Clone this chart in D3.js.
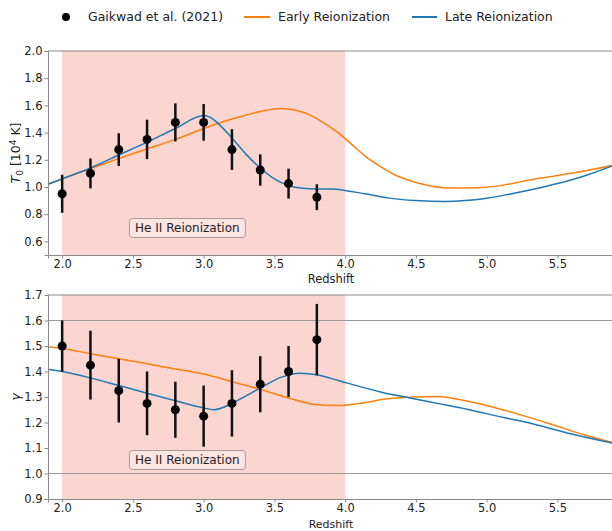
<!DOCTYPE html>
<html><head><meta charset="utf-8">
<script src="https://cdn.jsdelivr.net/npm/d3@7"></script>
<style>body{margin:0;background:#fff}svg{display:block}text{font-family:"DejaVu Sans",sans-serif}</style>
</head><body><svg id="c" width="612" height="531"></svg>
<script>
const obsZ = [2.0,2.2,2.4,2.6,2.8,3.0,3.2,3.4,3.6,3.8];
const obsT0 = [0.95,1.10,1.275,1.35,1.475,1.475,1.275,1.125,1.025,0.925];
const obsT0Err = [0.14,0.11,0.12,0.145,0.14,0.135,0.15,0.115,0.11,0.095];
const obsGamma = [1.50,1.425,1.325,1.275,1.25,1.225,1.275,1.35,1.40,1.525];
const obsGammaErr = [0.10,0.135,0.125,0.125,0.11,0.12,0.13,0.11,0.10,0.14];

const earlyT0Z = [1.9,2.0,2.2,2.4,2.6,2.8,3.0,3.2,3.4,3.55,3.65,3.75,3.85,3.95,4.05,4.15,4.25,4.35,4.45,4.55,4.7,4.85,5.0,5.15,5.33,5.5,5.7,5.9];
const earlyT0 = [1.02,1.06,1.135,1.21,1.28,1.35,1.43,1.50,1.555,1.578,1.565,1.53,1.47,1.40,1.31,1.22,1.15,1.09,1.05,1.02,0.995,0.993,0.998,1.02,1.057,1.085,1.12,1.16];
const lateT0Z = [1.9,2.0,2.2,2.4,2.6,2.8,3.0,3.05,3.1,3.2,3.3,3.4,3.5,3.6,3.7,3.8,3.9,4.0,4.15,4.3,4.5,4.7,4.85,5.0,5.15,5.33,5.5,5.7,5.9];
const lateT0 = [1.02,1.06,1.14,1.235,1.33,1.43,1.525,1.51,1.47,1.36,1.24,1.14,1.06,1.01,0.99,0.985,0.985,0.975,0.948,0.92,0.90,0.893,0.90,0.918,0.945,0.983,1.025,1.085,1.16];

const earlyGZ = [1.9,2.0,2.2,2.4,2.6,2.8,3.0,3.2,3.4,3.6,3.8,3.95,4.1,4.3,4.5,4.65,4.85,5.1,5.3,5.5,5.7,5.9];
const earlyG = [1.497,1.49,1.47,1.45,1.43,1.41,1.39,1.36,1.33,1.296,1.27,1.267,1.275,1.293,1.30,1.302,1.285,1.252,1.22,1.185,1.15,1.12];
const lateGZ = [1.9,2.0,2.2,2.4,2.6,2.8,3.0,3.07,3.15,3.25,3.4,3.55,3.68,3.8,3.9,4.0,4.25,4.45,4.65,4.86,5.1,5.33,5.6,5.9];
const lateG = [1.409,1.40,1.375,1.345,1.315,1.285,1.257,1.25,1.262,1.29,1.335,1.378,1.393,1.387,1.373,1.357,1.32,1.297,1.275,1.252,1.222,1.194,1.155,1.118];

const xTicks = [2.0,2.5,3.0,3.5,4.0,4.5,5.0,5.5];
const t0Ticks = [0.6,0.8,1.0,1.2,1.4,1.6,1.8,2.0];
const gTicks = [0.9,1.0,1.1,1.2,1.3,1.4,1.5,1.6,1.7];
const gRefLines = [1.0,1.6];
const heRange = [2.0,4.0];
const legendItems = ["Gaikwad et al. (2021)","Early Reionization","Late Reionization"];

const ORANGE="#ff7f0e", BLUE="#1f77b4", SPINE="#8a8a8a";
const svg = d3.select("#c");
const x = d3.scaleLinear().domain([1.9,5.9]).range([48,614]);

function panel(top,bottom,ydom,yticks,obs,err,early,earlyZ,late,lateZ,ylabel,refs,boxY,xlabOff,xlabSize){
  const y = d3.scaleLinear().domain(ydom).range([bottom,top]);
  const g = svg.append("g");
  g.append("rect").attr("x",x(heRange[0])).attr("width",x(heRange[1])-x(heRange[0]))
    .attr("y",top).attr("height",bottom-top).attr("fill","rgba(243,128,112,0.33)");
  refs.forEach(r=>g.append("line").attr("x1",48).attr("x2",614).attr("y1",y(r)).attr("y2",y(r))
    .attr("stroke","#9a9a9a").attr("stroke-width",1));
  const line = d3.line().curve(d3.curveMonotoneX);
  g.append("path").attr("d",line(earlyZ.map((z,i)=>[x(z),y(early[i])]))).attr("fill","none").attr("stroke",ORANGE).attr("stroke-width",1.5);
  g.append("path").attr("d",line(lateZ.map((z,i)=>[x(z),y(late[i])]))).attr("fill","none").attr("stroke",BLUE).attr("stroke-width",1.5);
  obsZ.forEach((z,i)=>{
    g.append("line").attr("x1",x(z)).attr("x2",x(z)).attr("y1",y(obs[i]-err[i])).attr("y2",y(obs[i]+err[i]))
      .attr("stroke","#111").attr("stroke-width",2.5);
    g.append("circle").attr("cx",x(z)).attr("cy",y(obs[i])).attr("r",4.5).attr("fill","#000");
  });
  const tb = g.append("g").attr("transform",`translate(${x(2.885)},${boxY})`);
  tb.append("rect").attr("x",-58).attr("y",-9.5).attr("width",116).attr("height",19).attr("rx",3)
    .attr("fill","rgba(255,240,238,0.6)").attr("stroke","#a99").attr("stroke-width",1);
  tb.append("text").attr("text-anchor","middle").attr("dy","0.36em").attr("font-size",12).attr("fill","#222").text("He II Reionization");
  g.append("line").attr("x1",48).attr("x2",614).attr("y1",top).attr("y2",top).attr("stroke",SPINE);
  const xa = g.append("g").attr("transform",`translate(0,${bottom})`)
    .call(d3.axisBottom(x).tickValues(xTicks).tickFormat(d3.format(".1f")).tickSize(3.5).tickPadding(1.5));
  const ya = g.append("g").attr("transform",`translate(48,0)`)
    .call(d3.axisLeft(y).tickValues(yticks).tickFormat(d3.format(".1f")).tickSize(3.5).tickPadding(2));
  [xa,ya].forEach(a=>{a.select(".domain").attr("stroke",SPINE);a.selectAll(".tick line").attr("stroke",SPINE);
    a.selectAll("text").attr("font-size",11.5).attr("fill","#222").attr("font-family","DejaVu Sans");});
  g.append("text").attr("x",331).attr("y",bottom+xlabOff).attr("text-anchor","middle").attr("font-size",xlabSize).attr("fill","#222").text("Redshift");
  const yl = g.append("text").attr("transform",`translate(20,${(top+bottom)/2}) rotate(-90)`).attr("text-anchor","middle").attr("font-size",12.5).attr("fill","#222");
  ylabel(yl);
}

panel(51,255,[0.5,2.0],t0Ticks,obsT0,obsT0Err,earlyT0,earlyT0Z,lateT0,lateT0Z,t=>{
  t.append("tspan").attr("font-style","italic").text("T");
  t.append("tspan").attr("font-size",9).attr("dy",3).text("0");
  t.append("tspan").attr("dy",-3).text(" [10");
  t.append("tspan").attr("font-size",9).attr("dy",-4.5).text("4");
  t.append("tspan").attr("dy",4.5).text(" K]");
},[],228,28,11.5);
panel(295,499,[0.9,1.7],gTicks,obsGamma,obsGammaErr,earlyG,earlyGZ,lateG,lateGZ,t=>{
  t.append("tspan").attr("font-style","italic").text("γ");
},gRefLines,460,29.3,11);

const lg = svg.append("g").attr("font-size",12.5).attr("fill","#222");
lg.append("circle").attr("cx",66).attr("cy",17).attr("r",4).attr("fill","#000");
lg.append("text").attr("x",88).attr("y",17).attr("dy","0.35em").text(legendItems[0]);
lg.append("line").attr("x1",244).attr("x2",270).attr("y1",17).attr("y2",17).attr("stroke",ORANGE).attr("stroke-width",2);
lg.append("text").attr("x",278).attr("y",17).attr("dy","0.35em").text(legendItems[1]);
lg.append("line").attr("x1",412).attr("x2",437).attr("y1",17).attr("y2",17).attr("stroke",BLUE).attr("stroke-width",2);
lg.append("text").attr("x",445).attr("y",17).attr("dy","0.35em").text(legendItems[2]);
</script></body></html>
